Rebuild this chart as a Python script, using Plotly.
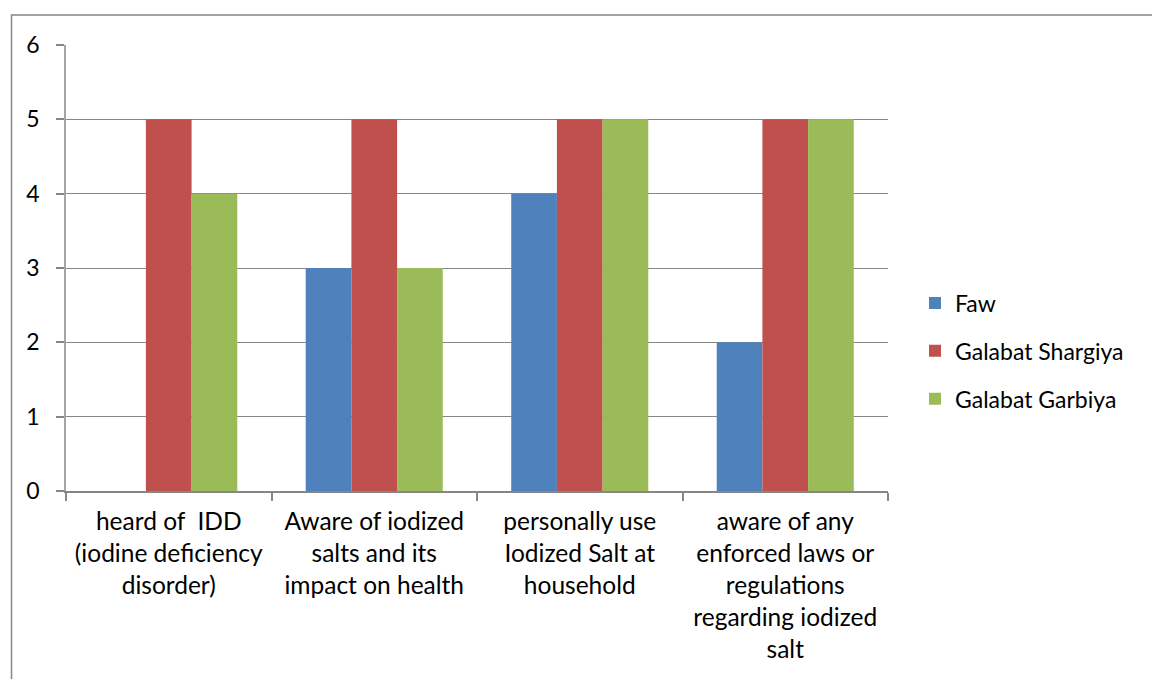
import plotly.graph_objects as go

categories = [
    "heard of  IDD<br>(iodine deficiency<br>disorder)",
    "Aware of iodized<br>salts and its<br>impact on health",
    "personally use<br>Iodized Salt at<br>household",
    "aware of any<br>enforced laws or<br>regulations<br>regarding iodized<br>salt",
]
series_names = ["Faw", "Galabat Shargiya", "Galabat Garbiya"]
faw = [0, 3, 4, 2]
shargiya = [5, 5, 5, 5]
garbiya = [4, 3, 5, 5]
colors = ["#4F81BD", "#C0504D", "#9BBB59"]
y_ticks = [0, 1, 2, 3, 4, 5, 6]

FONT = "Lato"
W, H = 1152, 679
L, R, T, B = 66, 1152 - 888, 45, 679 - 491
pw, ph = W - L - R, H - T - B

fig = go.Figure()
for name, vals, c in zip(series_names, [faw, shargiya, garbiya], colors):
    fig.add_trace(go.Bar(x=categories, y=vals, name=name, marker_color=c,
                         marker_line_width=0, legendgroup=name))

def px_x(x):
    return (x - L) / pw

def px_y(y):
    return (H - B - y) / ph

fig.add_shape(type="rect", xref="paper", yref="paper",
              x0=px_x(11.5), x1=px_x(1170), y0=px_y(15), y1=px_y(720),
              line=dict(color="#868686", width=1.5), fillcolor="rgba(0,0,0,0)", layer="below")

fig.update_layout(
    width=W, height=H,
    margin=dict(l=L, r=R, t=T, b=B, autoexpand=False),
    paper_bgcolor="white", plot_bgcolor="white",
    barmode="group", bargap=0.333, bargroupgap=0,
    font=dict(family=FONT, size=23, color="#000000"),
    showlegend=True,
    legend=dict(x=px_x(915), y=px_y(351), xanchor="left", yanchor="middle",
                tracegroupgap=15, font=dict(family=FONT, size=23),
                bgcolor="rgba(0,0,0,0)"),
    xaxis=dict(showline=True, linecolor="#868686", linewidth=1.5,
               ticks="outside", tickson="boundaries", ticklen=8, tickcolor="#868686",
               tickwidth=1.5, showgrid=False, tickangle=0, ticklabelstandoff=8,
               tickfont=dict(family=FONT, size=24.5)),
    yaxis=dict(range=[0, 6], tickvals=y_ticks, showgrid=True, gridcolor="#868686",
               gridwidth=1.2, showline=True, linecolor="#A6A6A6", linewidth=1.5,
               ticks="outside", ticklen=8, tickcolor="#868686", tickwidth=1.5,
               zeroline=False, ticklabelstandoff=12,
               tickfont=dict(family=FONT, size=23)),
)

fig.write_html("out.html")
